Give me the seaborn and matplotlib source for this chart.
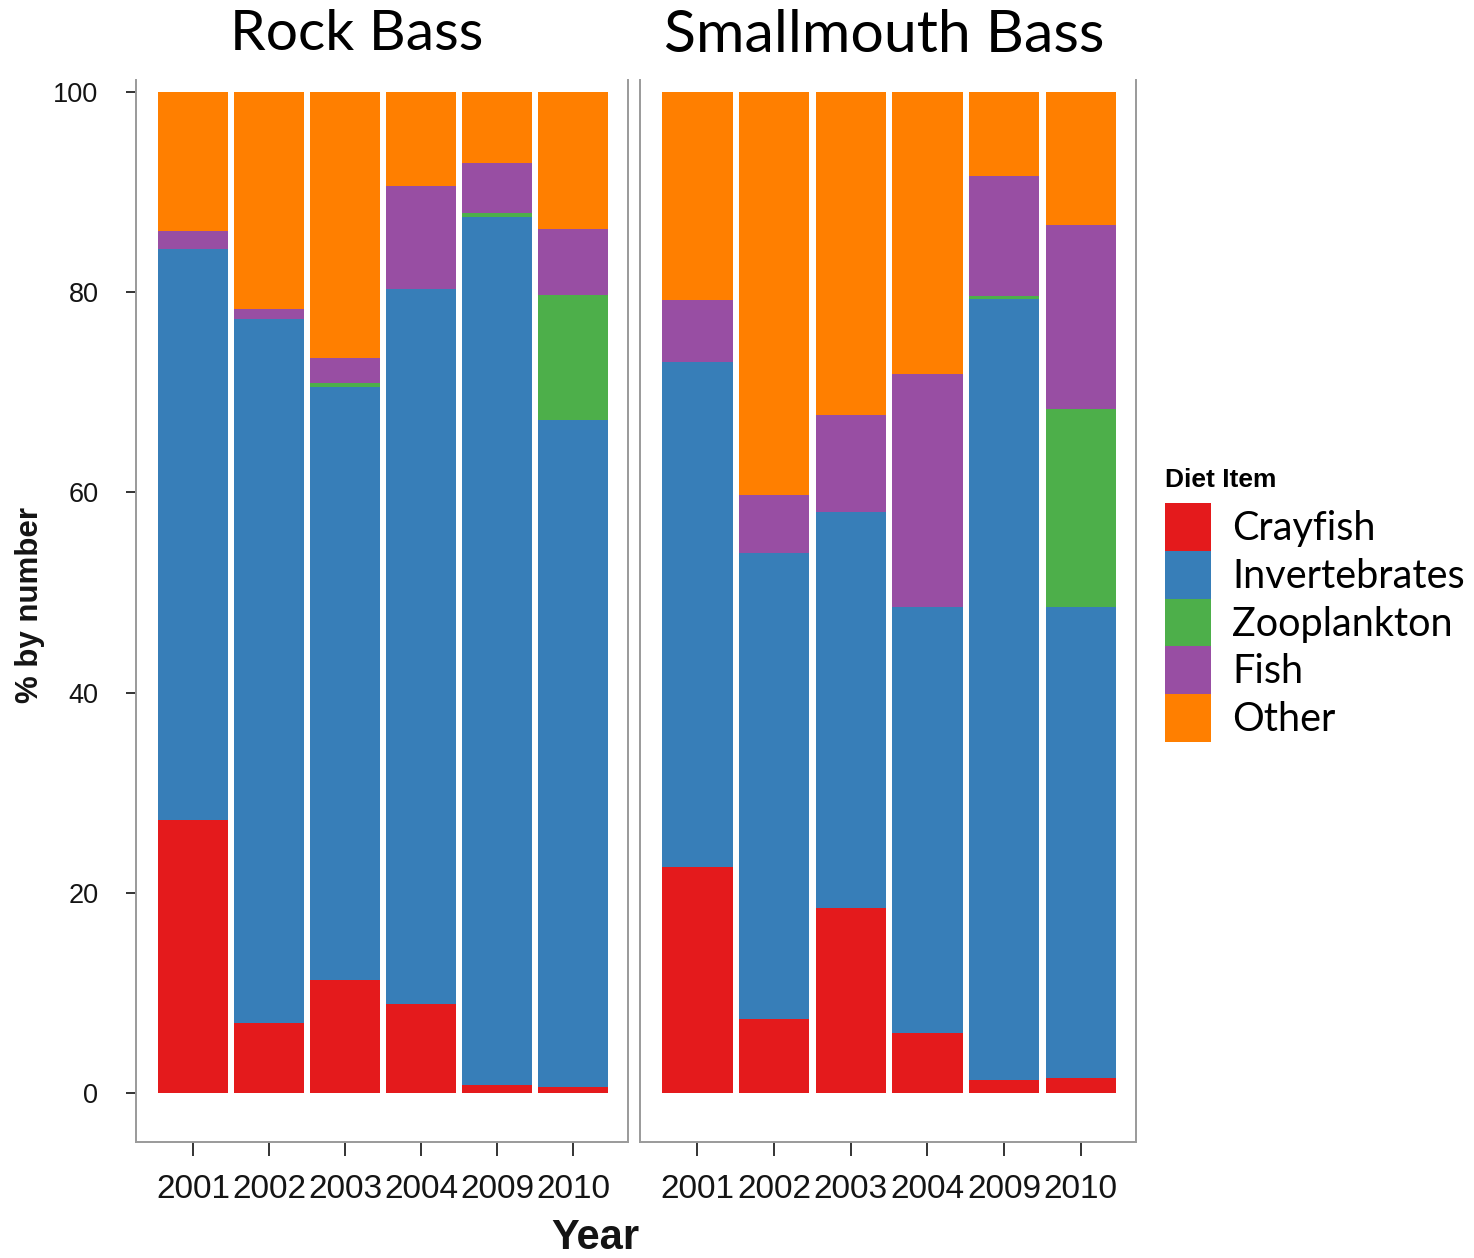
import matplotlib
matplotlib.use("Agg")
import matplotlib.pyplot as plt
from matplotlib.patches import Patch
import seaborn as sns
import pandas as pd
import numpy as np

years = ["2001", "2002", "2003", "2004", "2009", "2010"]
categories = ["Crayfish", "Invertebrates", "Zooplankton", "Fish", "Other"]
colors = ["#E41A1C", "#377EB8", "#4DAF4A", "#984EA3", "#FF7F00"]
species = ["Rock Bass", "Smallmouth Bass"]

rock_crayfish = [27.3, 7.0, 11.3, 8.9, 0.8, 0.6]
rock_invertebrates = [57.0, 70.3, 59.2, 71.4, 86.7, 66.6]
rock_zooplankton = [0.0, 0.0, 0.4, 0.0, 0.4, 12.5]
rock_fish = [1.8, 1.0, 2.5, 10.3, 5.0, 6.6]
rock_other = [13.9, 21.7, 26.6, 9.4, 7.1, 13.7]

smb_crayfish = [22.6, 7.4, 18.5, 6.0, 1.3, 1.5]
smb_invertebrates = [50.4, 46.5, 39.5, 42.5, 78.0, 47.0]
smb_zooplankton = [0.0, 0.0, 0.0, 0.0, 0.3, 19.8]
smb_fish = [6.2, 5.8, 9.7, 23.3, 12.0, 18.4]
smb_other = [20.8, 40.3, 32.3, 28.2, 8.4, 13.3]

series = {
    "Rock Bass": [rock_crayfish, rock_invertebrates, rock_zooplankton, rock_fish, rock_other],
    "Smallmouth Bass": [smb_crayfish, smb_invertebrates, smb_zooplankton, smb_fish, smb_other],
}

rows = []
for sp in species:
    for cat, vals in zip(categories, series[sp]):
        for yr, v in zip(years, vals):
            rows.append({"Species": sp, "Year": yr, "Diet Item": cat, "pct": v})
df = pd.DataFrame(rows)
df["Diet Item"] = pd.Categorical(df["Diet Item"], categories=categories, ordered=True)
df = df.sort_values(["Species", "Year", "Diet Item"])
df["top"] = df.groupby(["Species", "Year"])["pct"].cumsum()

sns.set_style("white")
plt.rcParams["font.family"] = ["Liberation Sans", "DejaVu Sans"]
plt.rcParams["text.color"] = "black"

fig = plt.figure(figsize=(14.74, 12.58), dpi=100)
W, H = 1474, 1258
ax_specs = [(136, 628), (640, 1136)]
top_px, bot_px = 80, 1142
axes = []
for (x0, x1) in ax_specs:
    ax = fig.add_axes([x0 / W, 1 - bot_px / H, (x1 - x0) / W, (bot_px - top_px) / H])
    axes.append(ax)

spine_col = "#9a9a9a"
tick_txt = "#141414"
for i, (ax, sp) in enumerate(zip(axes, species)):
    sub = df[df["Species"] == sp]
    for cat, col in reversed(list(zip(categories, colors))):
        d = sub[sub["Diet Item"] == cat]
        sns.barplot(data=d, x="Year", y="top", order=years, color=col,
                    saturation=1, width=0.92, errorbar=None, linewidth=0, ax=ax)
    ax.set_xlim(-0.75, 5.72)
    ax.set_ylim(-4.9, 101.2)
    ax.set_xlabel("")
    ax.set_ylabel("")
    ax.spines["top"].set_visible(False)
    for s in ["left", "right", "bottom"]:
        ax.spines[s].set_color(spine_col)
        ax.spines[s].set_linewidth(1.4)
    ax.tick_params(axis="x", length=10, width=1.4, color="#333333", pad=13,
                   labelsize=24, labelcolor=tick_txt, bottom=True)
    if i == 0:
        ax.set_yticks([0, 20, 40, 60, 80, 100])
        ax.tick_params(axis="y", length=7, width=1.4, color="#333333", pad=20,
                       labelsize=19.5, labelcolor=tick_txt, left=True)
    else:
        ax.set_yticks([])
    ax.set_facecolor("white")

fig.text(357 / W, 1 - 35 / H, "Rock Bass", family="Lato", fontsize=41,
         ha="center", va="center", color="black")
fig.text(884 / W, 1 - 35 / H, "Smallmouth Bass", family="Lato", fontsize=42.5,
         ha="center", va="center", color="black")
fig.text(595 / W, 1 - 1238 / H, "Year", fontsize=30, fontweight="bold",
         ha="center", va="center", color=tick_txt)
fig.text(30 / W, 1 - 605 / H, "% by number", fontsize=22.5, fontweight="bold",
         ha="center", va="center", rotation=90, color=tick_txt)

handles = [Patch(facecolor=c, edgecolor="none", label=l) for c, l in zip(colors, categories)]
leg = fig.legend(handles=handles, loc="upper left",
                 bbox_to_anchor=(1165 / W, 1 - 468 / H), frameon=False,
                 prop={"family": "Lato", "size": 28.5},
                 title="Diet Item",
                 title_fontproperties={"family": "Liberation Sans", "size": 19, "weight": "bold"},
                 handlelength=1.15, handleheight=1.48, handletextpad=0.55,
                 labelspacing=0.0, borderpad=0, borderaxespad=0)
leg._legend_box.align = "left"
leg._legend_box.sep = 8
for t in leg.get_texts():
    t.set_color("black")

fig.savefig("out.png", dpi=100, facecolor="white")
